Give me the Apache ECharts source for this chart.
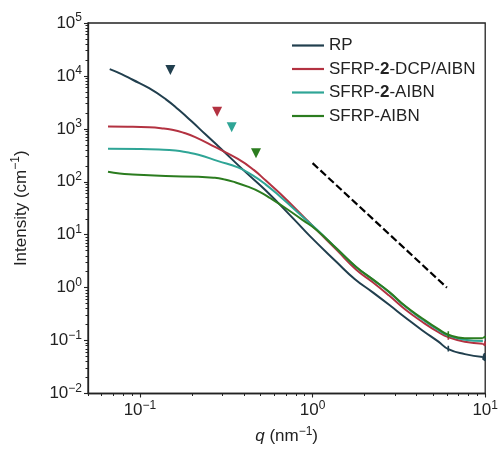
<!DOCTYPE html>
<html>
<head>
<meta charset="utf-8">
<script src="https://cdn.jsdelivr.net/npm/echarts@6/dist/echarts.min.js"></script>
<style>
html,body{margin:0;padding:0;background:#fff}
#chart{width:501px;height:450px}
</style>
</head>
<body>
<div id="chart"></div>
<script>
// SAXS curves, q (nm^-1) vs intensity (cm^-1)
var names = ["RP", "SFRP-2-DCP/AIBN", "SFRP-2-AIBN", "SFRP-AIBN"];
var colors = ["#213f4e", "#b33241", "#2fa596", "#2b7c1f"];

var rp = [[0.0668,13450],[0.0782,10835],[0.0907,8465],[0.113,5856],[0.1408,3652],[0.1677,2288],[0.1998,1372],
  [0.2394,788],[0.2904,439],[0.4034,159],[0.5338,69],[0.7786,19.7],[0.969,9.3],[1.377,3.05],[1.752,1.46],
  [2.232,0.814],[2.776,0.474],[3.458,0.27],[4.309,0.157],[5.36,0.0953],[6.113,0.069],[7.616,0.0555],[9.69,0.0487]];
var dcp = [[0.0653,1105],[0.0846,1098],[0.113,1072],[0.1323,1031],[0.1536,962],[0.179,844],[0.2089,698],
  [0.2718,455],[0.3693,270],[0.456,168],[0.5338,106.5],[0.6505,59.3],[0.8689,23.4],[1.058,12.2],[1.377,5.18],
  [1.791,2.185],[2.232,1.266],[2.776,0.708],[3.458,0.381],[4.309,0.227],[5.36,0.144],[6.113,0.116],[7.616,0.0953],
  [9.69,0.0874]];
var aibn2 = [[0.0653,420],[0.1,417],[0.1289,408],[0.1606,390],[0.1868,361],[0.2182,324],[0.2839,246],
  [0.3693,187],[0.45,132],[0.5338,89.5],[0.6505,52.1],[0.8689,22.4],[1.058,12.5],[1.377,5.5],[1.791,2.43],
  [2.232,1.42],[2.776,0.82],[3.458,0.434],[4.309,0.253],[5.36,0.157],[6.113,0.124],[7.616,0.104],[9.69,0.098]];
var aibn = [[0.0653,155],[0.0762,144],[0.0907,138],[0.1408,128],[0.2182,125],[0.2718,118.7],[0.3074,111],
  [0.3459,100.6],[0.4212,81],[0.4934,64.7],[0.5702,48.8],[0.7132,30.3],[0.8689,19.25],[1.058,12.2],[1.377,5.48],
  [1.791,2.457],[2.232,1.43],[2.776,0.832],[3.458,0.444],[4.309,0.264],[5.36,0.164],[6.113,0.129],[7.616,0.111],
  [9.69,0.111]];

// detector join glitch + noisy tail
var rpSpike = [[6.113,0.062],[6.113,0.08]];
var dcpSpike = [[6.113,0.104],[6.113,0.134]];
var aibnSpike = [[6.113,0.114],[6.113,0.15]];
var rpTail = [[9.69,0.0487],[9.75,0.043],[9.8,0.055],[9.85,0.042],[9.9,0.058],[9.95,0.041],[10,0.05]];
var dcpTail = [[9.69,0.0874],[9.95,0.08],[9.97,0.097],[10,0.086]];
var aibnTail = [[9.69,0.111],[9.95,0.104],[9.97,0.12],[10,0.11]];

// peak markers (inverted triangles)
var marks = [[0.15,13000],[0.28,2100],[0.34,1070],[0.47,345]];

// guide line, slope -3
var guide = [[1,225],[6,1]];

var xMajor = [0.1, 1, 10];
var xMinor = [0.05,0.06,0.07,0.08,0.09,0.2,0.3,0.4,0.5,0.6,0.7,0.8,0.9,2,3,4,5,6,7,8,9];
var yMajor = [0.01, 0.1, 1, 10, 100, 1000, 10000, 100000];
var yMinor = [];
yMajor.slice(0,-1).forEach(function(d){
  for(var k=2;k<10;k++) yMinor.push(+(d*k).toPrecision(3));
});

var font = "'Liberation Sans', Arial, sans-serif";
var ink = "#222";

function powLabel(v){
  var e = Math.round(Math.log10(v));
  if(Math.abs(Math.log10(v)-e)>1e-6) return "";
  return "{b|10}{s|" + String(e).replace("-", "\u2212") + "}";
}
var supRich = {
  b:{fontSize:17, fontFamily:font, color:ink},
  s:{fontSize:12, fontFamily:font, color:ink, padding:[0,0,10,0]}
};

function curve(name, data, color, z){
  return {name:name, type:"line", data:data, symbol:"none", smooth:0.5,
    lineStyle:{width:2, color:color}, itemStyle:{color:color}, z:z, silent:true};
}
function bit(data, color, z){
  return {type:"line", data:data, symbol:"none", lineStyle:{width:1.6, color:color}, z:z, silent:true};
}

var series = [];
series.push(curve(names[0], rp, colors[0], 2));
series.push(curve(names[1], dcp, colors[1], 3));
series.push(curve(names[2], aibn2, colors[2], 4));
series.push(curve(names[3], aibn, colors[3], 5));
series.push(bit(rpSpike, colors[0], 2));
series.push(bit(rpTail, colors[0], 2));
series.push(bit(dcpSpike, colors[1], 3));
series.push(bit(dcpTail, colors[1], 3));
series.push(bit(aibnSpike, colors[3], 5));
series.push(bit(aibnTail, colors[3], 5));
marks.forEach(function(m, i){
  series.push({type:"scatter", data:[m], symbol:"triangle", symbolRotate:180, symbolSize:[10,10],
    itemStyle:{color:colors[i], opacity:1}, z:6, silent:true});
});
series.push({type:"line", data:guide, symbol:"none",
  lineStyle:{width:2.2, color:"#000", type:[7.5,3.2]}, z:6, silent:true});

var chart = echarts.init(document.getElementById("chart"));
var option = {
  animation:false,
  textStyle:{fontFamily:font},
  grid:{left:88, right:11, top:23, bottom:55, show:true, borderColor:ink, borderWidth:1.3},
  legend:{
    data:names, orient:"vertical", left:292, top:37, padding:0,
    icon:"rect", itemWidth:32, itemHeight:2.2, itemGap:6.5,
    textStyle:{fontSize:17, color:ink, fontFamily:font,
      rich:{bd:{fontSize:17, fontWeight:"bold", color:ink, fontFamily:font}}},
    formatter:function(n){ return n.replace("-2-", "-{bd|2}-"); }
  },
  xAxis:[{
    type:"log", logBase:10, min:0.05, max:10,
    name:"{i|q} (nm{s|\u22121})", nameLocation:"middle", nameGap:32,
    nameTextStyle:{fontSize:17, color:ink, fontFamily:font,
      rich:{i:{fontSize:17, fontStyle:"italic", color:ink, fontFamily:font},
            s:{fontSize:12, color:ink, fontFamily:font, padding:[0,0,10,0]}}},
    axisLine:{show:true, onZero:false, lineStyle:{color:ink, width:1.3}},
    axisTick:{show:true, length:4, customValues:xMajor, lineStyle:{color:ink, width:1.1}},
    axisLabel:{customValues:xMajor, formatter:powLabel, rich:supRich, margin:6},
    splitLine:{show:false}
  },{
    type:"log", logBase:10, min:0.05, max:10, position:"bottom",
    axisLine:{show:false},
    axisTick:{show:true, length:2.5, customValues:xMinor, lineStyle:{color:ink, width:1}},
    axisLabel:{show:false}, splitLine:{show:false}
  }],
  yAxis:[{
    type:"log", logBase:10, min:0.01, max:100000,
    name:"Intensity (cm{s|\u22121})", nameLocation:"middle", nameGap:56,
    nameTextStyle:{fontSize:17, color:ink, fontFamily:font,
      rich:{s:{fontSize:12, color:ink, fontFamily:font, padding:[0,0,10,0]}}},
    axisLine:{show:true, onZero:false, lineStyle:{color:ink, width:1.3}},
    axisTick:{show:true, length:4, customValues:yMajor, lineStyle:{color:ink, width:1.1}},
    axisLabel:{customValues:yMajor, formatter:powLabel, rich:supRich, margin:6},
    splitLine:{show:false}
  },{
    type:"log", logBase:10, min:0.01, max:100000, position:"left",
    axisLine:{show:false},
    axisTick:{show:true, length:2.5, customValues:yMinor, lineStyle:{color:ink, width:1}},
    axisLabel:{show:false}, splitLine:{show:false}
  }],
  series:series
};
chart.setOption(option);
</script>
</body>
</html>
